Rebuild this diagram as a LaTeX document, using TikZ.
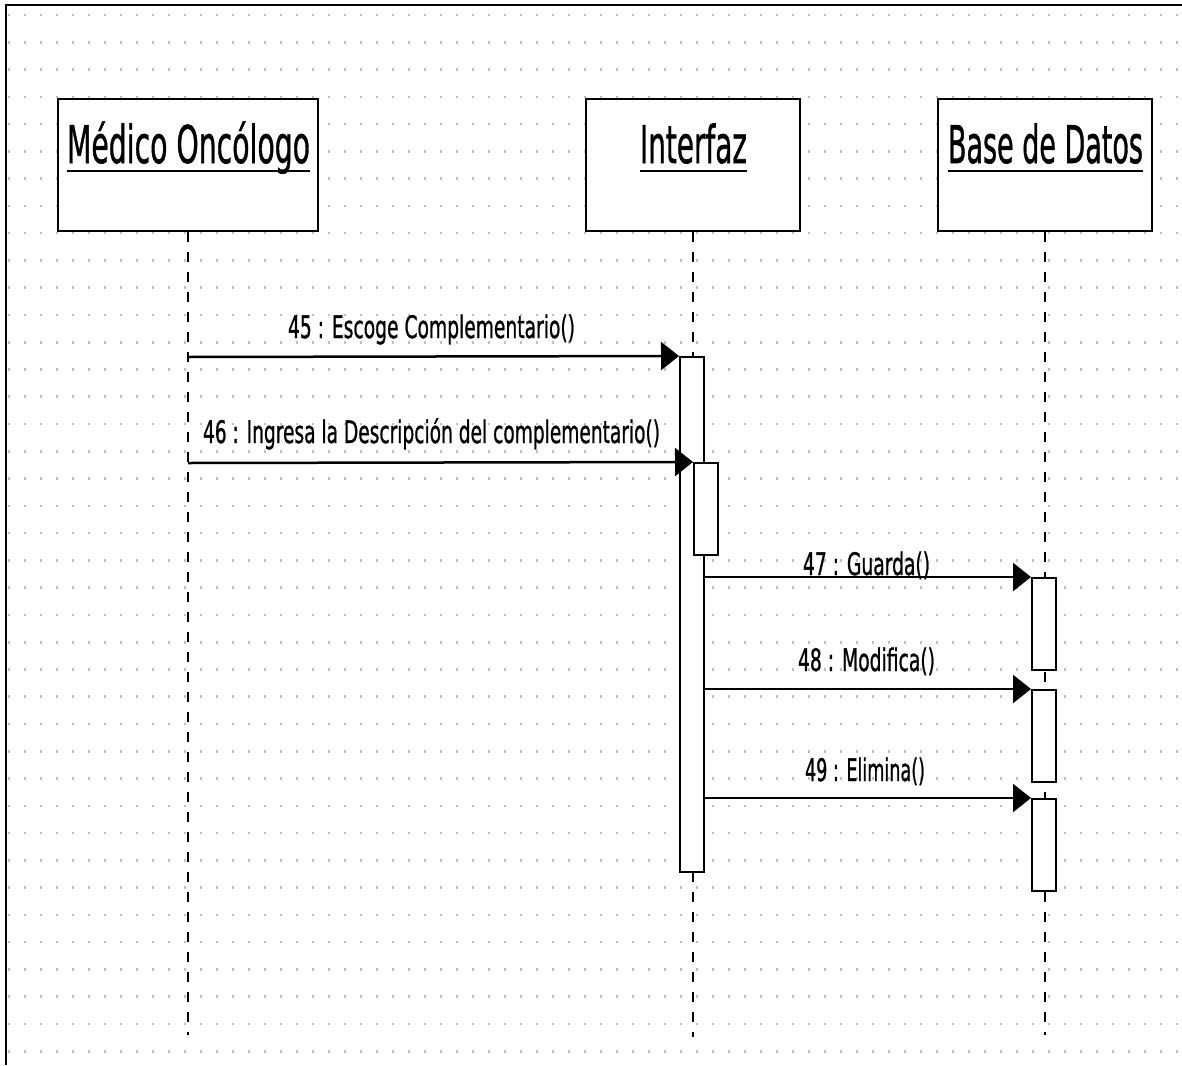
\documentclass[tikz,border=0pt]{standalone}
\usepackage{graphicx}
\usepackage{fontspec}
\setmainfont{DejaVu Sans}
\newfontfamily\umlfont[FakeBold=1.2]{DejaVu Sans}
\usetikzlibrary{arrows.meta}
\newcommand\fitw[2]{\resizebox{#1}{\height}{#2}}
\begin{document}
\begin{tikzpicture}[x=1pt,y=-1pt,
  headbox/.style={draw, line width=2pt, fill=white, minimum width=#1, minimum height=132pt, inner sep=0pt},
  headtxt/.style={anchor=base, inner sep=0pt, font=\umlfont\fontsize{52pt}{60pt}\selectfont},
  actbox/.style={draw, line width=2pt, fill=white, minimum width=24pt, minimum height=#1, inner sep=0pt},
  lifeline/.style={line width=2pt, dash pattern=on 10pt off 10pt},
  msg/.style={line width=2.5pt, -{Triangle[length=18pt,width=28pt]}},
  msgtxt/.style={anchor=base, inner sep=0pt, font=\umlfont\fontsize{31pt}{36pt}\selectfont},
  uline/.style={line width=2.5pt}
]
\useasboundingbox (0,0) rectangle (1182,1065);
\fill[white] (0,0) rectangle (1182,1065);
% dotted grid
\foreach \i in {0,...,73}{
  \foreach \j in {0,...,38}{
    \fill[black!25] ({9+16*\i-0.6},{15+27.27*\j-1.3}) rectangle ++(1.2,2.6);
  }
}
% frame
\draw[line width=2pt] (6,1065) -- (6,5) -- (1182,5);

% lifeline heads
\node[headbox=260pt] (med) at (188,165) {};
\node[headbox=214pt] (itf) at (693,165) {};
\node[headbox=214pt] (db) at (1045,165) {};

\node[headtxt] (medt) at (188.5,163) {\fitw{243pt}{Médico Oncólogo}};
\node[headtxt] (itft) at (693.5,163) {\fitw{107pt}{Interfaz}};
\node[headtxt] (dbt) at (1045.5,163) {\fitw{195pt}{Base de Datos}};
\draw[uline] ([yshift=-8pt]medt.base west) -- ([yshift=-8pt]medt.base east);
\draw[uline] ([yshift=-8pt]itft.base west) -- ([yshift=-8pt]itft.base east);
\draw[uline] ([yshift=-8pt]dbt.base west) -- ([yshift=-8pt]dbt.base east);

% lifelines
\coordinate (medend) at (188,1035);
\coordinate (itfend) at (693,1037);
\coordinate (dbend) at (1045,1035);
\draw[lifeline] (med.south) -- (medend);
\draw[lifeline] (itf.south) -- (itfend);
\draw[lifeline] (db.south) -- (dbend);

% activation boxes
\node[actbox=515pt] (act1) at (692,614.5) {};
\node[actbox=92pt] (act2) at (706,509) {};
\node[actbox=92pt] (db1) at (1044,624) {};
\node[actbox=92pt] (db2) at (1044,736) {};
\node[actbox=92pt] (db3) at (1044,845) {};

% messages
\coordinate (s45) at (188,357);
\coordinate (s46) at (188,463);
\draw[msg] (s45) -- (act1.north west);
\draw[msg] (s46) -- (act2.north west);
\draw[msg] (act1.east |- db1.north west) -- (db1.north west);
\draw[msg] (act1.east |- db2.north west) -- (db2.north west);
\draw[msg] (act1.east |- db3.north west) -- (db3.north west);

% message labels
\node[msgtxt] (l45) at (431.5,338) {\fitw{287pt}{45 : Escoge Complementario()}};
\node[msgtxt] (l46) at (431.5,443) {\fitw{457pt}{46 : Ingresa la Descripción del complementario()}};
\node[msgtxt] (l47) at (866.5,575) {\fitw{127pt}{47 : Guarda()}};
\node[msgtxt] (l48) at (866.5,671) {\fitw{137pt}{48 : Modifica()}};
\node[msgtxt] (l49) at (865,781) {\fitw{120pt}{49 : Elimina()}};
\end{tikzpicture}
\end{document}
